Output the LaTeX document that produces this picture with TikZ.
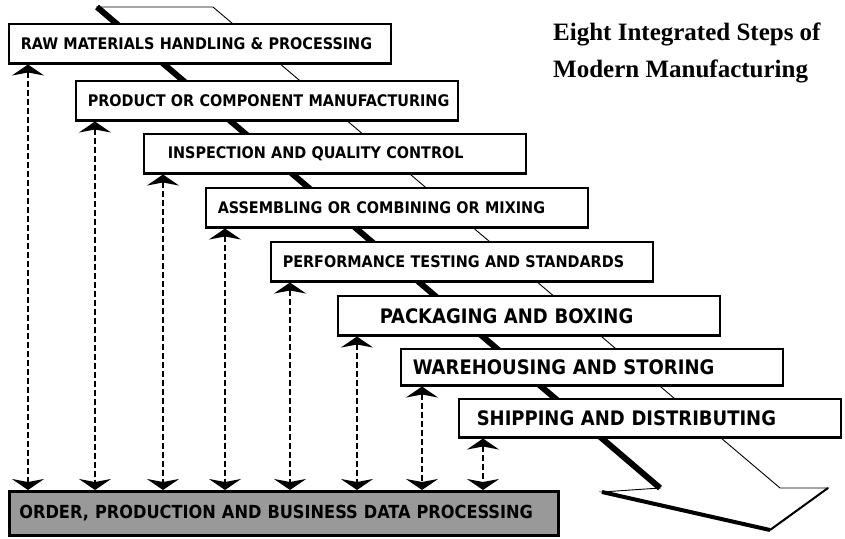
\documentclass[tikz,border=0pt]{standalone}
\usepackage{fontspec}
\usepackage{tikz}
\usetikzlibrary{arrows.meta,positioning}
\newfontfamily\labelfont{DejaVu Sans Condensed Bold}
\newfontfamily\titlefont{Liberation Serif}

\begin{document}
\begin{tikzpicture}[x=1pt, y=-1pt,
            stepbox/.style={draw, fill=white, line width=1.5pt, anchor=north west,
              minimum width=382pt, minimum height=40pt, inner xsep=12pt, inner ysep=0pt,
              text width=358pt, align=left, font=\labelfont\fontsize{16}{16}\selectfont,
              path picture={\draw[line width=3.2pt] (path picture bounding box.north west)
                -- (path picture bounding box.south west) -- (path picture bounding box.south east);}},
            bigstep/.style={font=\labelfont\fontsize{20}{20}\selectfont},
            databox/.style={draw, fill=black!40, line width=2.6pt, anchor=north west,
              minimum width=549pt, minimum height=44pt, inner xsep=10pt, inner ysep=0pt,
              text width=529pt, align=left, font=\labelfont\fontsize{18}{18}\selectfont},
            link/.style={line width=2.4pt, dash pattern=on 6pt off 3pt, <->,
              >={Stealth[width=32pt,length=11pt,inset=3pt]}},
            ribbon/.style={draw, fill=white, line width=0.9pt, line join=miter},
            ribbonside/.style={line width=6pt, line cap=butt},
            heading/.style={align=left, anchor=north west, inner sep=0pt,
              font=\titlefont\bfseries\fontsize{25}{37}\selectfont},
          ]
          \useasboundingbox (0,0) rectangle (845,538);

          % --- big ribbon arrow running behind the steps ---
          \draw[ribbon] (97,7) -- (213,7) -- (780,488) -- (828,488) -- (770,530)
            -- (602,492) -- (660,488) -- cycle;
          \draw[ribbonside] (97,7) -- (660,488);
          \draw[ribbonside, line width=4pt] (602,492) -- (770,530);
          \draw[line width=2pt] (770,530) -- (828,488);

          % --- heading ---
          \node[heading] (title) at (553,23) {Eight Integrated Steps of\\Modern Manufacturing};

          % --- the eight steps ---
          \node[stepbox] (raw) at (8,23) {RAW MATERIALS HANDLING \& PROCESSING};
          \node[stepbox] (product) at (75,80) {\mbox{PRODUCT OR COMPONENT MANUFACTURING}};
          \node[stepbox] (inspect) at (143,133) {\hspace*{12pt}INSPECTION AND QUALITY CONTROL};
          \node[stepbox] (assemble) at (205,187) {ASSEMBLING OR COMBINING OR MIXING};
          \node[stepbox] (perform) at (270,241) {PERFORMANCE TESTING AND STANDARDS};
          \node[stepbox, bigstep] (pack) at (337,295) {\hspace*{30pt}PACKAGING AND BOXING};
          \node[stepbox, bigstep, minimum height=37pt] (store) at (400,348) {WAREHOUSING AND STORING};
          \node[stepbox, bigstep, minimum height=39pt] (ship) at (458,398) {\hspace*{6pt}SHIPPING AND DISTRIBUTING};

          % --- data processing bar ---
          \node[databox] (data) at (8,490) {ORDER, PRODUCTION AND BUSINESS DATA PROCESSING};

          % --- links from each step down to the data bar ---
          \draw[link] ([xshift=20pt]raw.south west) -- ([xshift=20pt]raw.south west |- data.north);
          \draw[link] ([xshift=20pt]product.south west) -- ([xshift=20pt]product.south west |- data.north);
          \draw[link] ([xshift=20pt]inspect.south west) -- ([xshift=20pt]inspect.south west |- data.north);
          \draw[link] ([xshift=20pt]assemble.south west) -- ([xshift=20pt]assemble.south west |- data.north);
          \draw[link] ([xshift=20pt]perform.south west) -- ([xshift=20pt]perform.south west |- data.north);
          \draw[link] ([xshift=20pt]pack.south west) -- ([xshift=20pt]pack.south west |- data.north);
          \draw[link] ([xshift=22pt]store.south west) -- ([xshift=22pt]store.south west |- data.north);
          \draw[link] ([xshift=25pt]ship.south west) -- ([xshift=25pt]ship.south west |- data.north);
        \end{tikzpicture}
\end{document}
